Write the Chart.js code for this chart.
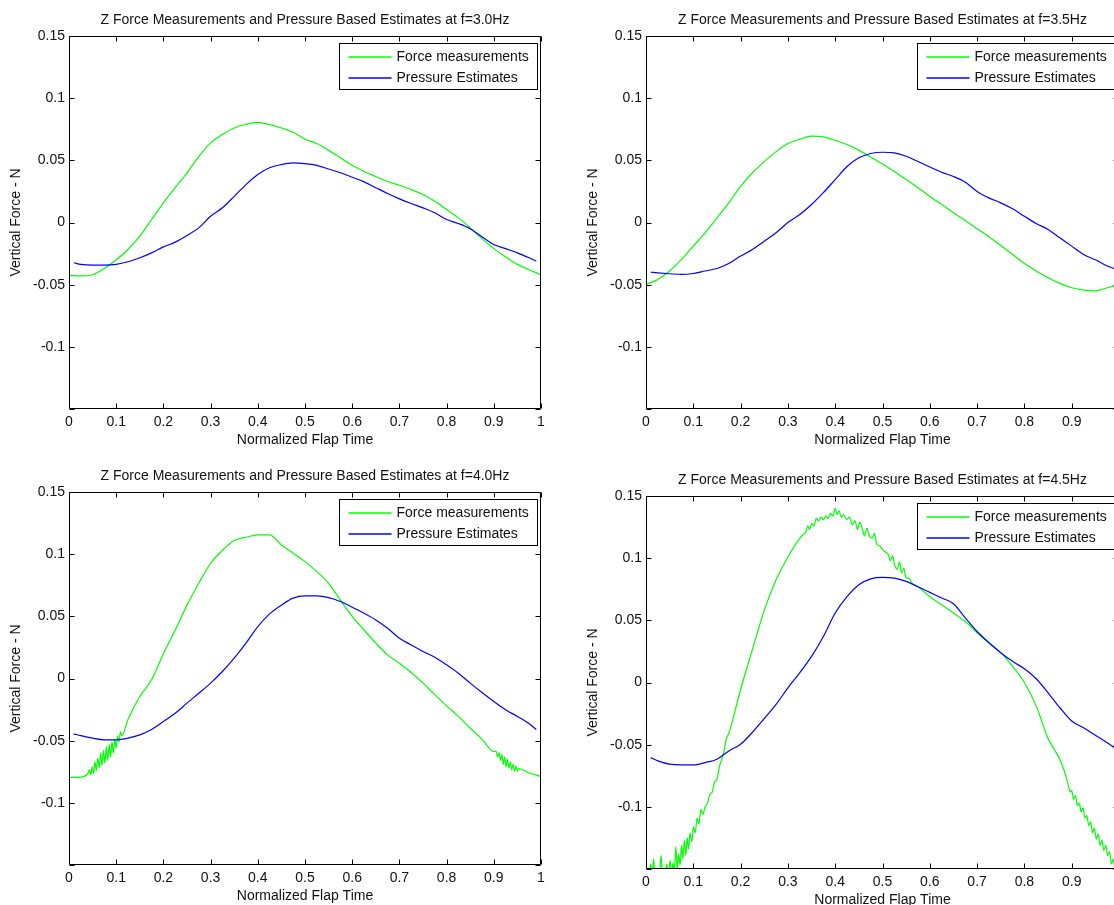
<!DOCTYPE html>
<html>
<head>
<meta charset="utf-8">
<script src="https://cdn.jsdelivr.net/npm/chart.js@4.4.1/dist/chart.umd.min.js"></script>
<style>
html,body{margin:0;padding:0;background:#fff;overflow:hidden;width:1114px;height:905px;position:relative;}
.p{position:absolute;}
canvas{display:block;}
</style>
</head>
<body>
<div class="p" id="d0"><canvas id="c0"></canvas></div>
<div class="p" id="d1"><canvas id="c1"></canvas></div>
<div class="p" id="d2"><canvas id="c2"></canvas></div>
<div class="p" id="d3"><canvas id="c3"></canvas></div>
<script>
// ---------- data ----------
const frequencies = ['3.0', '3.5', '4.0', '4.5'];
const seriesNames = ['Force measurements', 'Pressure Estimates'];
const xAxisLabel = 'Normalized Flap Time';
const yAxisLabel = 'Vertical Force - N';
const titlePrefix = 'Z Force Measurements and Pressure Based Estimates at f=';

const timeForce = [0,0.025,0.05,0.075,0.1,0.125,0.15,0.175,0.2,0.225,0.25,0.275,0.3,0.325,0.35,0.375,0.4,0.425,0.45,0.475,0.5,0.525,0.55,0.575,0.6,0.625,0.65,0.675,0.7,0.725,0.75,0.775,0.8,0.825,0.85,0.875,0.9,0.925,0.95,0.975,1];
const timePressure = [0.01,0.025,0.05,0.075,0.1,0.125,0.15,0.175,0.2,0.225,0.25,0.275,0.3,0.325,0.35,0.375,0.4,0.425,0.45,0.475,0.5,0.525,0.55,0.575,0.6,0.625,0.65,0.675,0.7,0.725,0.75,0.775,0.8,0.825,0.85,0.875,0.9,0.925,0.95,0.975,0.99];

const force30 = [-0.0426,-0.043,-0.042,-0.037,-0.030,-0.0217,-0.011,0.0024,0.0158,0.028,0.040,0.053,0.064,0.0707,0.076,0.079,0.0806,0.0787,0.076,0.0726,0.067,0.0635,0.058,0.052,0.046,0.041,0.037,0.033,0.030,0.0265,0.0225,0.017,0.0104,0.0037,-0.0043,-0.013,-0.021,-0.0276,-0.0337,-0.038,-0.042];
const press30 = [-0.0324,-0.0337,-0.0343,-0.0343,-0.0337,-0.0316,-0.0284,-0.0244,-0.0196,-0.0158,-0.0104,-0.0043,0.005,0.0118,0.021,0.0305,0.0386,0.044,0.0466,0.048,0.0474,0.046,0.043,0.040,0.0364,0.0327,0.028,0.0233,0.019,0.0153,0.0118,0.0078,0.0024,-0.0008,-0.005,-0.0115,-0.0177,-0.021,-0.0244,-0.0284,-0.031];

const force35 = [-0.0498,-0.0458,-0.039,-0.0297,-0.019,-0.0083,0.0037,0.0158,0.029,0.040,0.049,0.057,0.0635,0.067,0.0694,0.0688,0.066,0.0627,0.058,0.0527,0.047,0.041,0.0345,0.028,0.021,0.0145,0.0078,0.0016,-0.005,-0.0115,-0.0185,-0.0257,-0.033,-0.039,-0.0445,-0.049,-0.0525,-0.0544,-0.055,-0.0525,-0.050];
const press35 = [-0.040,-0.0405,-0.0412,-0.0418,-0.041,-0.039,-0.037,-0.033,-0.027,-0.0217,-0.015,-0.0083,0,0.0064,0.0145,0.024,0.0345,0.045,0.052,0.0555,0.0565,0.056,0.0533,0.049,0.0447,0.0404,0.037,0.0324,0.025,0.0198,0.0158,0.011,0.005,-0.0008,-0.0056,-0.0123,-0.019,-0.0257,-0.030,-0.035,-0.037];

const force40 = [-0.0796,-0.0793,-0.0755,-0.061,-0.0466,-0.033,-0.0145,-0.001,0.020,0.039,0.059,0.0766,0.0927,0.103,0.111,0.1136,0.1155,0.1155,0.1074,0.1007,0.094,0.086,0.0766,0.063,0.050,0.039,0.0284,0.019,0.0123,0.0048,-0.0037,-0.013,-0.022,-0.0305,-0.040,-0.0488,-0.0587,-0.068,-0.0734,-0.076,-0.0788];
const press40 = [-0.0445,-0.046,-0.048,-0.0493,-0.0493,-0.048,-0.0453,-0.041,-0.0346,-0.028,-0.0198,-0.0118,-0.0037,0.0056,0.0163,0.0284,0.0418,0.052,0.059,0.0646,0.0664,0.0664,0.065,0.0619,0.0573,0.0525,0.0471,0.0404,0.0324,0.027,0.0217,0.0171,0.011,0.0043,-0.0037,-0.0113,-0.0185,-0.0252,-0.0305,-0.0364,-0.041];

const force45 = [-0.153,-0.15,-0.151,-0.138,-0.1246,-0.103,-0.0765,-0.040,-0.0056,0.0265,0.058,0.0826,0.101,0.116,0.1267,0.135,0.1374,0.1334,0.1267,0.116,0.108,0.100,0.088,0.077,0.069,0.0626,0.0559,0.049,0.040,0.032,0.024,0.013,0,-0.019,-0.046,-0.062,-0.087,-0.104,-0.122,-0.135,-0.155];
const press45 = [-0.0604,-0.063,-0.0657,-0.0663,-0.0663,-0.0644,-0.0617,-0.055,-0.0497,-0.040,-0.029,-0.0176,-0.0043,0.0078,0.021,0.037,0.0559,0.069,0.0786,0.0834,0.0845,0.084,0.0813,0.077,0.0725,0.068,0.0634,0.052,0.041,0.032,0.024,0.017,0.011,0.003,-0.0083,-0.0203,-0.031,-0.0364,-0.0425,-0.0484,-0.0524];

// finer readings of the jagged (noisy) stretches of the force traces
const noise40StartT = [0.040,0.043,0.046,0.049,0.052,0.055,0.058,0.061,0.064,0.067,0.070,0.073,0.076,0.079,0.082,0.085,0.088,0.091,0.094,0.097,0.100,0.103,0.106,0.109,0.112];
const noise40StartV = [-0.0765,-0.0735,-0.0775,-0.071,-0.0765,-0.067,-0.074,-0.064,-0.072,-0.060,-0.070,-0.058,-0.068,-0.055,-0.066,-0.053,-0.063,-0.051,-0.060,-0.049,-0.056,-0.046,-0.051,-0.043,-0.046];
const noise40EndT = [0.905,0.908,0.911,0.914,0.917,0.920,0.923,0.926,0.929,0.932,0.935,0.938,0.941,0.944,0.947,0.950,0.953];
const noise40EndV = [-0.0585,-0.063,-0.0595,-0.066,-0.061,-0.069,-0.063,-0.071,-0.065,-0.072,-0.067,-0.0735,-0.069,-0.0745,-0.0705,-0.0745,-0.0725];

const noise45StartT = [0.000,0.006,0.010,0.013,0.016,0.019,0.024,0.028,0.032,0.035,0.040,0.044,0.047,0.051,0.054,0.057,0.060,0.063,0.066,0.069,0.072,0.075,0.078,0.081,0.084,0.087,0.090,0.093,0.097,0.100,0.104,0.108,0.112,0.116,0.120,0.125,0.130,0.135,0.140,0.145,0.150,0.155,0.160,0.165,0.170,0.175];
const noise45StartV = [-0.152,-0.156,-0.146,-0.155,-0.142,-0.156,-0.153,-0.157,-0.139,-0.156,-0.154,-0.146,-0.156,-0.143,-0.155,-0.145,-0.152,-0.132,-0.150,-0.138,-0.147,-0.131,-0.142,-0.127,-0.139,-0.125,-0.134,-0.121,-0.128,-0.116,-0.121,-0.109,-0.114,-0.102,-0.106,-0.100,-0.097,-0.090,-0.088,-0.080,-0.078,-0.068,-0.062,-0.055,-0.045,-0.041];
const noise45PeakT = [0.330,0.338,0.342,0.346,0.350,0.355,0.360,0.365,0.370,0.375,0.380,0.385,0.390,0.395,0.400,0.404,0.408,0.413,0.418,0.424,0.430,0.436,0.442,0.447,0.452,0.457,0.462,0.467,0.472,0.478,0.483,0.488,0.494,0.500,0.506,0.512,0.517,0.521,0.526,0.531,0.536,0.540,0.545,0.550,0.556,0.562,0.570];
const noise45PeakV = [0.118,0.121,0.126,0.123,0.128,0.126,0.132,0.130,0.133,0.131,0.134,0.132,0.136,0.134,0.140,0.135,0.138,0.133,0.135,0.131,0.133,0.127,0.130,0.123,0.129,0.124,0.118,0.124,0.118,0.116,0.120,0.111,0.110,0.107,0.105,0.103,0.098,0.102,0.094,0.091,0.097,0.088,0.092,0.084,0.084,0.080,0.078];
const noise45EndT = [0.850,0.862,0.875,0.885,0.893,0.897,0.900,0.904,0.908,0.912,0.916,0.920,0.924,0.928,0.932,0.936,0.940,0.944,0.948,0.952,0.956,0.960,0.964,0.968,0.972,0.976,0.980,0.984,0.988,0.992,1.000];
const noise45EndV = [-0.045,-0.053,-0.062,-0.072,-0.083,-0.088,-0.087,-0.094,-0.091,-0.099,-0.097,-0.104,-0.101,-0.109,-0.107,-0.115,-0.112,-0.121,-0.117,-0.126,-0.122,-0.131,-0.127,-0.135,-0.131,-0.139,-0.136,-0.146,-0.142,-0.152,-0.155];

const forceSeries = [force30, force35, force40, force45];
const pressureSeries = [press30, press35, press40, press45];
const forceNoise = [
  [],
  [],
  [[noise40StartT, noise40StartV], [noise40EndT, noise40EndV]],
  [[noise45StartT, noise45StartV], [noise45PeakT, noise45PeakV], [noise45EndT, noise45EndV]]
];

// ---------- layout (positions of each panel) ----------
const panels = [
  {left:0,   top:0,   w:560, h:450, L:69, T:36, R:541, B:409},
  {left:560, top:0,   w:600, h:450, L:86, T:36, R:559, B:409},
  {left:0,   top:450, w:560, h:455, L:69, T:42, R:541, B:415},
  {left:560, top:450, w:600, h:455, L:86, T:46, R:559, B:419}
];

const FONT = '"Liberation Sans", Arial, Helvetica, sans-serif';
const TEXT = '#111';
const GREEN = '#00ff00';
const BLUE = '#0000ff';
Chart.defaults.font.family = FONT;
Chart.defaults.font.size = 14;
Chart.defaults.color = TEXT;

const fmt = v => String(Math.round(v * 100) / 100);

// merge base readings with the finer readings of the noisy stretches
function buildPoints(xs, ys, extra) {
  const ranges = extra.map(([t]) => [Math.min(...t), Math.max(...t)]);
  const pts = [];
  xs.forEach((x, i) => {
    if (!ranges.some(([a, b]) => x >= a && x <= b)) pts.push({x: x, y: ys[i]});
  });
  extra.forEach(([t, v]) => t.forEach((x, i) => pts.push({x: x, y: v[i]})));
  pts.sort((p, q) => p.x - q.x);
  return pts;
}

const matlabFrame = {
  id: 'matlabFrame',
  afterDatasetsDraw(chart, args, opts) {
    const {ctx, chartArea: a} = chart;
    const xs = chart.scales.x, ys = chart.scales.y;
    const L = Math.round(a.left) + 0.5, R = Math.round(a.right) - 0.5;
    const T = Math.round(a.top) + 0.5, B = Math.round(a.bottom) - 0.5;
    const tl = 5;
    ctx.save();
    ctx.strokeStyle = '#000';
    ctx.lineWidth = 1;
    ctx.beginPath();
    ctx.rect(L, T, R - L, B - T);
    xs.ticks.forEach(t => {
      const p = Math.round(xs.getPixelForValue(t.value)) + 0.5;
      ctx.moveTo(p, B); ctx.lineTo(p, B - tl);
      ctx.moveTo(p, T); ctx.lineTo(p, T + tl);
    });
    ys.ticks.forEach(t => {
      const p = Math.round(ys.getPixelForValue(t.value)) + 0.5;
      ctx.moveTo(L, p); ctx.lineTo(L + tl, p);
      ctx.moveTo(R, p); ctx.lineTo(R - tl, p);
    });
    ctx.stroke();

    // legend box
    const bw = 198, bh = 46;
    const bx = Math.round(a.right) - 4 - bw + 0.5, by = Math.round(a.top) + 7 + 0.5;
    ctx.fillStyle = '#fff';
    ctx.fillRect(bx, by, bw, bh);
    ctx.strokeStyle = '#000';
    ctx.strokeRect(bx, by, bw, bh);
    ctx.font = '14px ' + FONT;
    ctx.textAlign = 'left';
    ctx.textBaseline = 'middle';
    chart.data.datasets.forEach((ds, i) => {
      const y = Math.round(by + 13 + i * 21);
      ctx.strokeStyle = ds.borderColor;
      ctx.lineWidth = 1.3;
      ctx.beginPath();
      ctx.moveTo(bx + 9, y); ctx.lineTo(bx + 52, y);
      ctx.stroke();
      ctx.fillStyle = TEXT;
      ctx.fillText(ds.label, bx + 57, y);
    });

    // title and axis labels
    ctx.fillStyle = TEXT;
    ctx.textAlign = 'center';
    ctx.textBaseline = 'middle';
    ctx.fillText(opts.title, (a.left + a.right) / 2, a.top - 16);
    ctx.fillText(xAxisLabel, (a.left + a.right) / 2, a.bottom + 31);
    ctx.translate(a.left - 53, (a.top + a.bottom) / 2);
    ctx.rotate(-Math.PI / 2);
    ctx.fillText(yAxisLabel, 0, 0);
    ctx.restore();
  }
};

panels.forEach((p, k) => {
  const div = document.getElementById('d' + k);
  div.style.left = p.left + 'px';
  div.style.top = p.top + 'px';
  div.style.width = p.w + 'px';
  div.style.height = p.h + 'px';
  const cv = document.getElementById('c' + k);
  cv.width = p.w; cv.height = p.h;
  cv.style.width = p.w + 'px'; cv.style.height = p.h + 'px';
  new Chart(cv, {
    type: 'line',
    data: {
      datasets: [
        {label: seriesNames[0], data: buildPoints(timeForce, forceSeries[k], forceNoise[k]),
         borderColor: GREEN, borderWidth: 1.2, pointRadius: 0, cubicInterpolationMode: 'monotone', fill: false, order: 2},
        {label: seriesNames[1], data: buildPoints(timePressure, pressureSeries[k], []),
         borderColor: BLUE, borderWidth: 1.2, pointRadius: 0, cubicInterpolationMode: 'monotone', fill: false, order: 1}
      ]
    },
    options: {
      responsive: false,
      animation: false,
      devicePixelRatio: 1,
      layout: {padding: {left: 0, top: p.T, right: p.w - p.R, bottom: 0}},
      plugins: {
        legend: {display: false},
        tooltip: {enabled: false},
        title: {display: false},
        matlabFrame: {title: titlePrefix + frequencies[k] + 'Hz'}
      },
      scales: {
        x: {
          type: 'linear', min: 0, max: 1,
          ticks: {stepSize: 0.1, padding: 5, color: TEXT, maxRotation: 0, autoSkip: false, callback: v => fmt(v)},
          grid: {display: false, drawTicks: false},
          border: {display: false},
          afterFit: s => { s.height = p.h - p.B; }
        },
        y: {
          type: 'linear', min: -0.15, max: 0.15,
          ticks: {stepSize: 0.05, padding: 4, color: TEXT, callback: v => (v < -0.149 ? '' : fmt(v))},
          grid: {display: false, drawTicks: false},
          border: {display: false},
          afterFit: s => { s.width = p.L; }
        }
      }
    },
    plugins: [matlabFrame]
  });
});
</script>
</body>
</html>
